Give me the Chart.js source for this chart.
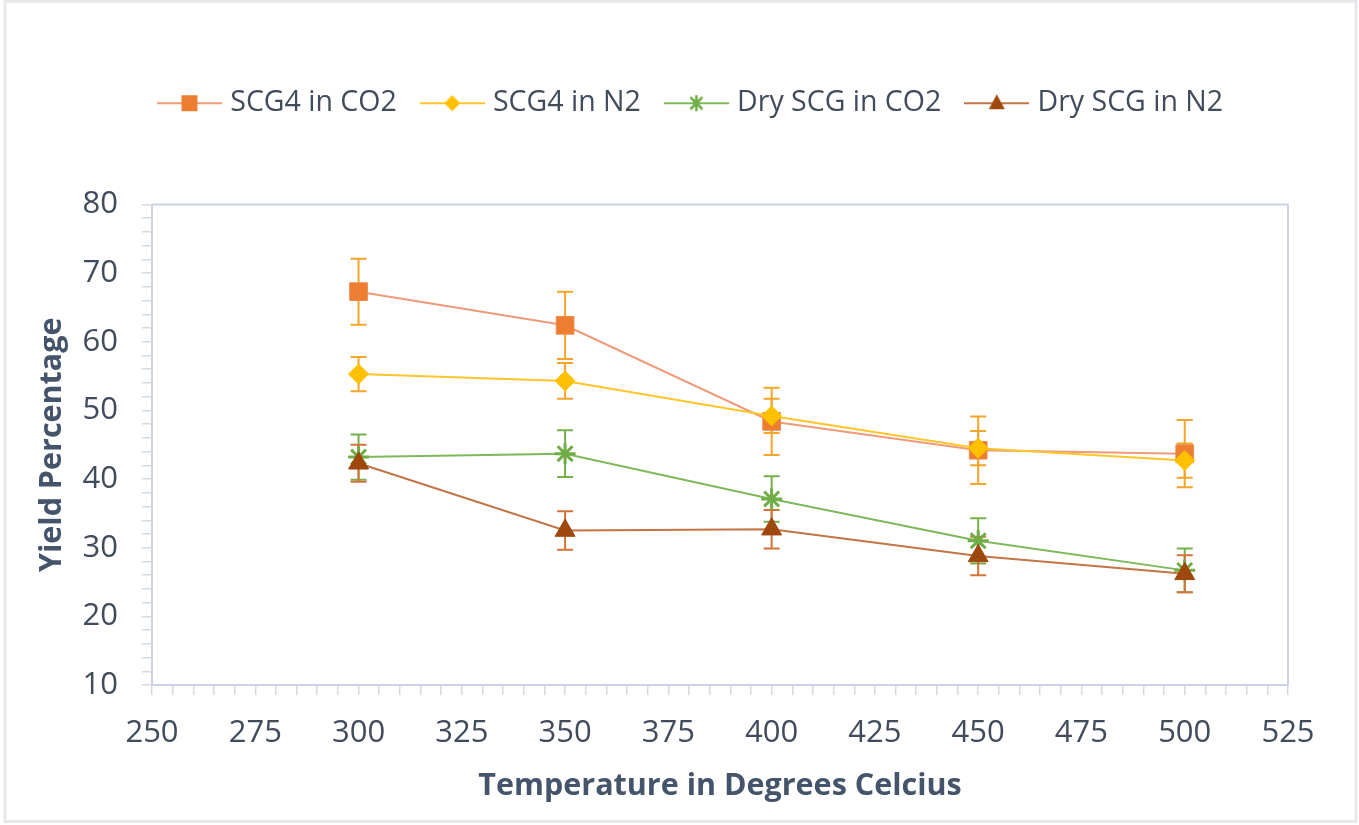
<!DOCTYPE html>
<html>
<head>
<meta charset="utf-8">
<title>Yield Percentage</title>
<script src="https://cdn.jsdelivr.net/npm/chart.js@4.4.1/dist/chart.umd.min.js"></script>
<style>
  html, body { margin: 0; padding: 0; background: #fff; }
  canvas { display: block; }
</style>
</head>
<body>
<canvas id="grafico" width="1359" height="825"></canvas>
<script>
// dados
const temperaturas = [300, 350, 400, 450, 500];
const seriesNomes = ['SCG4 in CO2', 'SCG4 in N2', 'Dry SCG in CO2', 'Dry SCG in N2'];
const scg4Co2 = [67.3, 62.4, 48.4, 44.2, 43.7];
const scg4N2 = [55.3, 54.3, 49.2, 44.5, 42.7];
const dryCo2 = [43.2, 43.7, 37.1, 31.0, 26.7];
const dryN2 = [42.3, 32.5, 32.7, 28.8, 26.2];
const erroScg4Co2 = [4.8, 4.9, 4.9, 4.9, 4.9];
const erroScg4N2 = [2.5, 2.6, 2.5, 2.5, 2.5];
const erroDryCo2 = [3.3, 3.4, 3.3, 3.3, 3.2];
const erroDryN2 = [2.7, 2.8, 2.8, 2.8, 2.7];

const corTexto = '#404b5c';
const corEixo = '#cdd3e6';
const fonte = '"Open Sans", "Noto Sans", sans-serif';

function pontos(valores) {
  return temperaturas.map((t, i) => ({ x: t, y: valores[i] }));
}

// marcador desenhado no ícone da legenda (linha + marcador)
function iconeLegenda(ds) {
  const c = document.createElement('canvas');
  c.width = 65; c.height = 22;
  const g = c.getContext('2d');
  const cx = 32.5, cy = 11;
  g.strokeStyle = ds.borderColor;
  g.lineWidth = 2;
  g.beginPath(); g.moveTo(0, cy); g.lineTo(65, cy); g.stroke();
  g.fillStyle = ds.pointBackgroundColor;
  g.strokeStyle = ds.pointBorderColor;
  g.beginPath();
  if (ds.pointStyle === 'rect') {
    g.rect(cx - 8, cy - 8, 16, 16); g.fill();
  } else if (ds.pointStyle === 'rectRot') {
    g.moveTo(cx - 8, cy); g.lineTo(cx, cy - 8); g.lineTo(cx + 8, cy); g.lineTo(cx, cy + 8);
    g.closePath(); g.fill();
  } else if (ds.pointStyle === 'triangle') {
    g.moveTo(cx, cy - 9); g.lineTo(cx + 8, cy + 6); g.lineTo(cx - 8, cy + 6);
    g.closePath(); g.fill();
  } else {
    g.lineWidth = 2.5;
    g.moveTo(cx - 6, cy - 6); g.lineTo(cx + 6, cy + 6);
    g.moveTo(cx + 6, cy - 6); g.lineTo(cx - 6, cy + 6);
    g.moveTo(cx, cy - 8); g.lineTo(cx, cy + 8);
    g.stroke();
  }
  return c;
}

const barrasErro = {
  id: 'barrasErro',
  beforeDatasetsDraw(chart) {
    const ctx = chart.ctx;
    const y = chart.scales.y;
    chart.data.datasets.forEach((ds, i) => {
      const meta = chart.getDatasetMeta(i);
      ctx.save();
      ctx.strokeStyle = ds.errorColor;
      ctx.lineWidth = 2;
      meta.data.forEach((pt, j) => {
        const v = ds.data[j].y;
        const topo = y.getPixelForValue(v + ds.errors[j]);
        const base = y.getPixelForValue(v - ds.errors[j]);
        ctx.beginPath();
        ctx.moveTo(pt.x, topo); ctx.lineTo(pt.x, base);
        ctx.moveTo(pt.x - 8, topo); ctx.lineTo(pt.x + 8, topo);
        ctx.moveTo(pt.x - 8, base); ctx.lineTo(pt.x + 8, base);
        ctx.stroke();
      });
      ctx.restore();
    });
  }
};

const moldura = {
  id: 'moldura',
  beforeDraw(chart) {
    const ctx = chart.ctx;
    ctx.save();
    ctx.fillStyle = '#fff';
    ctx.fillRect(0, 0, chart.width, chart.height);
    ctx.strokeStyle = '#e6e8ec';
    ctx.lineWidth = 3;
    ctx.strokeRect(5, 1.5, 1351, 820);
    ctx.restore();
  },
  afterDatasetsDraw(chart) {
    const a = chart.chartArea;
    const ctx = chart.ctx;
    ctx.save();
    ctx.strokeStyle = corEixo;
    ctx.lineWidth = 2;
    ctx.beginPath();
    ctx.moveTo(a.left, a.top); ctx.lineTo(a.right, a.top); ctx.lineTo(a.right, a.bottom);
    ctx.stroke();
    ctx.restore();
  }
};

// legenda: sobe para o topo e alinha como no original
const posLegenda = {
  id: 'posLegenda',
  afterLayout(chart) {
    const lg = chart.legend;
    if (!lg || !lg.lineWidths) return;
    const pad = lg.options.labels.padding;
    const atual = (lg.left + pad + lg.right - lg.lineWidths[0]) / 2;
    const dx = 163 - atual;
    lg.left += dx; lg.right += dx;
    lg.top -= 77; lg.bottom -= 77;
  }
};

const ctx = document.getElementById('grafico').getContext('2d');
new Chart(ctx, {
  type: 'line',
  data: {
    datasets: [
      {
        label: seriesNomes[0], data: pontos(scg4Co2), errors: erroScg4Co2,
        borderColor: '#ef9a78', errorColor: '#f5a52a',
        pointStyle: 'rect', pointRadius: 12.5, pointBackgroundColor: '#ed7d31', pointBorderColor: '#ee8a4a',
        pointBorderWidth: 1, order: 4
      },
      {
        label: seriesNomes[1], data: pontos(scg4N2), errors: erroScg4N2,
        borderColor: '#ffc52a', errorColor: '#f5a52a',
        pointStyle: 'rectRot', pointRadius: 10, pointBackgroundColor: '#ffc000', pointBorderColor: '#ffc000',
        pointBorderWidth: 1, order: 3
      },
      {
        label: seriesNomes[2], data: pontos(dryCo2), errors: erroDryCo2,
        borderColor: '#7fb85a', errorColor: '#74b04c',
        pointStyle: 'star', pointRadius: 10.5, pointBackgroundColor: '#70ad47', pointBorderColor: '#70ad47',
        pointBorderWidth: 3, order: 2
      },
      {
        label: seriesNomes[3], data: pontos(dryN2), errors: erroDryN2,
        borderColor: '#c27545', errorColor: '#d2743a',
        pointStyle: 'triangle', pointRadius: 11.5, pointBackgroundColor: '#9e480e', pointBorderColor: '#9e480e',
        pointBorderWidth: 1, order: 1
      }
    ]
  },
  options: {
    responsive: false,
    animation: false,
    devicePixelRatio: 1,
    layout: { padding: { top: 137, right: 71, bottom: 0, left: 0 } },
    elements: { line: { borderWidth: 2, tension: 0 } },
    plugins: {
      tooltip: { enabled: false },
      legend: {
        position: 'top',
        labels: {
          usePointStyle: true,
          pointStyleWidth: 53,
          padding: 29,
          color: corTexto,
          font: { family: fonte, size: 28.5 },
          generateLabels(chart) {
            return chart.data.datasets.map((ds, i) => ({
              text: ds.label,
              pointStyle: iconeLegenda(ds),
              fillStyle: ds.pointBackgroundColor,
              strokeStyle: ds.borderColor,
              lineWidth: 0,
              fontColor: corTexto,
              hidden: false,
              datasetIndex: i
            }));
          }
        }
      }
    },
    scales: {
      x: {
        type: 'linear',
        min: 250,
        max: 525,
        afterFit(scale) { scale.height = 140; },
        grid: { drawOnChartArea: false, drawTicks: true, tickLength: 10, color: '#d6d9df', lineWidth: 1.5 },
        border: { display: true, color: corEixo, width: 2 },
        ticks: {
          stepSize: 5,
          autoSkip: false,
          maxTicksLimit: 100,
          maxRotation: 0,
          padding: 20,
          color: corTexto,
          font: { family: fonte, size: 31 },
          callback: function(value) {
            return value % 25 === 0 ? value : '';
          }
        },
        title: {
          display: true,
          text: 'Temperature in Degrees Celcius',
          color: '#44546a',
          font: { family: fonte, size: 30.5, weight: 'bold' },
          padding: { top: 0, bottom: 20 }
        }
      },
      y: {
        min: 10,
        max: 80,
        afterFit(scale) { scale.width = 152; },
        grid: { drawOnChartArea: false, drawTicks: true, tickLength: 10, color: '#d6d9df', lineWidth: 1.5 },
        border: { display: true, color: corEixo, width: 2 },
        ticks: {
          stepSize: 2,
          autoSkip: false,
          maxTicksLimit: 100,
          padding: 24,
          color: corTexto,
          font: { family: fonte, size: 31 },
          callback: function(value) {
            return value % 10 === 0 ? value : '';
          }
        },
        title: {
          display: true,
          text: 'Yield Percentage',
          color: '#44546a',
          font: { family: fonte, size: 30.5, weight: 'bold' },
          padding: { top: 34, bottom: 0 }
        }
      }
    }
  },
  plugins: [barrasErro, moldura, posLegenda]
});
</script>
</body>
</html>
